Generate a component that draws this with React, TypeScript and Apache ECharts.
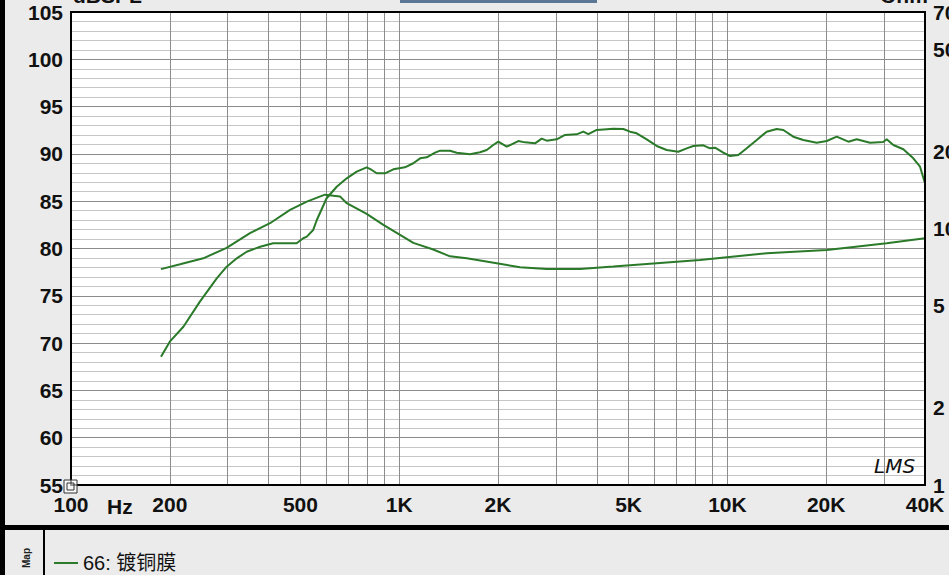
import React, { useEffect, useRef } from 'react';
import * as echarts from 'echarts';

// SPL curve (dB) vs frequency (Hz)
const splFreq = [188, 200, 220, 247, 278, 298, 320, 343, 377, 413, 487, 510, 523, 547, 561, 601, 645, 692, 742, 796, 825, 854, 905, 960, 1041, 1104, 1158, 1213, 1286, 1332, 1428, 1497, 1643, 1763, 1848, 1935, 2004, 2126, 2306, 2417, 2593, 2718, 2814, 3019, 3201, 3474, 3639, 3769, 3998, 4491, 4818, 5050, 5292, 5677, 6089, 6531, 7086, 7516, 7873, 8446, 8851, 9167, 9716, 10180, 10795, 11451, 12285, 13170, 14131, 14801, 15878, 17029, 18713, 20080, 21530, 23360, 24770, 27200, 29850, 30570, 32030, 34360, 36850, 38630, 40000];
const splDb = [68.56, 70.15, 71.73, 74.38, 76.85, 78.08, 78.96, 79.66, 80.19, 80.55, 80.55, 81.08, 81.25, 81.96, 83.01, 85.31, 86.53, 87.42, 88.12, 88.58, 88.3, 87.95, 87.95, 88.37, 88.58, 89.01, 89.53, 89.64, 90.13, 90.34, 90.34, 90.13, 89.96, 90.17, 90.41, 90.94, 91.29, 90.76, 91.36, 91.22, 91.12, 91.61, 91.4, 91.54, 92.0, 92.07, 92.35, 92.1, 92.53, 92.66, 92.63, 92.35, 92.18, 91.54, 90.84, 90.41, 90.23, 90.59, 90.84, 90.91, 90.59, 90.66, 90.13, 89.78, 89.88, 90.59, 91.47, 92.35, 92.63, 92.53, 91.82, 91.47, 91.18, 91.36, 91.82, 91.29, 91.54, 91.18, 91.26, 91.54, 90.94, 90.49, 89.53, 88.65, 86.89];

// Impedance curve (Ohm) vs frequency (Hz)
const impFreq = [188, 215, 253, 298, 351, 404, 465, 523, 594, 660, 692, 796, 895, 1006, 1104, 1270, 1428, 1606, 1982, 2334, 2814, 3555, 4491, 5168, 8252, 13170, 20080, 30570, 40000];
const impOhm = [6.95, 7.26, 7.66, 8.42, 9.6, 10.5, 11.83, 12.75, 13.57, 13.36, 12.57, 11.41, 10.34, 9.45, 8.8, 8.29, 7.8, 7.66, 7.33, 7.07, 6.96, 6.96, 7.11, 7.22, 7.55, 8.02, 8.26, 8.77, 9.17];

// Axes
const xGridLines = [200, 300, 400, 500, 600, 700, 800, 900, 1000, 2000, 3000, 4000, 5000, 6000, 7000, 8000, 9000, 10000, 20000, 30000];
const xTickValues = [100, 200, 500, 1000, 2000, 5000, 10000, 20000, 40000];
const xTickLabels = ['100', '200', '500', '1K', '2K', '5K', '10K', '20K', '40K'];
const rightTickValues = [1, 2, 5, 10, 20, 50, 70];
const seriesName = '66: 镀铜膜';

const FONT = '"Liberation Sans", Arial, "Noto Sans CJK SC", sans-serif';
const GREEN = '#2a7a2a';
const GRID_DARK = '#8c8c8c';
const GRID_LIGHT = '#c6c6c6';
const CLEAR = 'rgba(0,0,0,0)';

export default function App() {
  const ref = useRef<HTMLDivElement>(null);
  useEffect(() => {
    if (!ref.current) return;
    const chart = echarts.init(ref.current, null, { renderer: 'svg' });
    const labelStyle = { fontSize: 21, fontWeight: 'bold', color: '#111', fontFamily: FONT };
    const option: any = {
      animation: false,
      backgroundColor: '#ebebeb',
      textStyle: { fontFamily: FONT },
      grid: { left: 71, top: 12, width: 854, height: 473, show: true, backgroundColor: '#ffffff', borderWidth: 0 },
      xAxis: {
        type: 'log', logBase: 10, min: 100, max: 40000,
        axisLine: { show: false }, axisTick: { show: false }, axisLabel: { show: false }, splitLine: { show: false },
      },
      yAxis: [
        {
          type: 'value', min: 55, max: 105, interval: 5, position: 'left',
          axisLine: { show: false }, axisTick: { show: false },
          axisLabel: { ...labelStyle, margin: 8 },
          splitLine: { show: true, lineStyle: { color: GRID_DARK, width: 1 } },
          minorTick: { show: false, splitNumber: 5 },
          minorSplitLine: { show: true, lineStyle: { color: GRID_LIGHT, width: 1 } },
        },
        {
          type: 'log', logBase: 10, min: 1, max: 70, position: 'right',
          axisLine: { show: false }, axisTick: { show: false }, axisLabel: { show: false }, splitLine: { show: false },
        },
      ],
      legend: {
        data: [seriesName], left: 49, top: 548, itemWidth: 24, itemHeight: 2, icon: 'rect', itemGap: 10,
        itemStyle: { color: GREEN },
        textStyle: { fontSize: 20, color: '#111', fontFamily: FONT },
      },
      series: [
        {
          name: seriesName, type: 'line', xAxisIndex: 0, yAxisIndex: 0,
          data: splFreq.map((f, i) => [f, splDb[i]]),
          symbol: 'none', showSymbol: false, smooth: false,
          lineStyle: { color: GREEN, width: 2 }, itemStyle: { color: GREEN }, z: 5,
          markLine: {
            silent: true, symbol: ['none', 'none'], animation: false,
            label: { show: false },
            lineStyle: { color: GRID_DARK, width: 1, type: 'solid' },
            emphasis: { disabled: true },
            data: xGridLines.map((v) => ({ xAxis: v })),
            z: 1,
          },
        },
        {
          name: seriesName, type: 'line', xAxisIndex: 0, yAxisIndex: 1,
          data: impFreq.map((f, i) => [f, impOhm[i]]),
          symbol: 'none', showSymbol: false, smooth: false,
          lineStyle: { color: GREEN, width: 2 }, itemStyle: { color: GREEN }, z: 5,
          markLine: {
            silent: true, symbol: ['none', 'none'], animation: false,
            lineStyle: { color: CLEAR, width: 1, type: 'solid' },
            emphasis: { disabled: true },
            data: [
              ...xTickValues.map((v, i) => ({
                xAxis: v,
                label: { show: true, position: 'start', distance: 9, formatter: xTickLabels[i], ...labelStyle },
              })),
              ...rightTickValues.map((v) => ({
                yAxis: v,
                label: { show: true, position: 'end', distance: 8, formatter: String(v), ...labelStyle },
              })),
            ],
          },
        },
      ],
      graphic: [
        { type: 'rect', silent: true, z: 100, shape: { x: 71, y: 12, width: 854, height: 473 }, style: { fill: 'none', stroke: '#000', lineWidth: 2 } },
        { type: 'rect', silent: true, z: 100, shape: { x: 0, y: 0, width: 5, height: 575 }, style: { fill: '#000' } },
        { type: 'rect', silent: true, z: 100, shape: { x: 0, y: 525, width: 949, height: 5 }, style: { fill: '#000' } },
        { type: 'rect', silent: true, z: 100, shape: { x: 43, y: 530, width: 2, height: 45 }, style: { fill: '#000' } },
        { type: 'rect', silent: true, z: 100, shape: { x: 400, y: 0, width: 197, height: 3 }, style: { fill: '#5b7795' } },
        { type: 'text', silent: true, z: 100, x: 26, y: 558, rotation: Math.PI / 2, style: { text: 'Map', font: 'bold 10px "Liberation Sans", Arial', fill: '#222', align: 'center', verticalAlign: 'middle' } },
        { type: 'text', silent: true, z: 100, x: 107, y: 496, style: { text: 'Hz', font: 'bold 21px "Liberation Sans", Arial', fill: '#111', align: 'left', verticalAlign: 'top' } },
        { type: 'text', silent: true, z: 100, x: 73, y: 6, style: { text: 'dBSPL', font: 'bold 21px "Liberation Sans", Arial', fill: '#111', align: 'left', verticalAlign: 'bottom' } },
        { type: 'text', silent: true, z: 100, x: 880, y: 6, style: { text: 'Ohm', font: 'bold 21px "Liberation Sans", Arial', fill: '#111', align: 'left', verticalAlign: 'bottom' } },
        { type: 'text', silent: true, z: 100, x: 874, y: 456, style: { text: 'LMS', font: 'italic 20px "DejaVu Sans", sans-serif', fill: '#111', align: 'left', verticalAlign: 'top' } },
        { type: 'rect', silent: true, z: 101, shape: { x: 64, y: 480, width: 13, height: 13 }, style: { fill: 'rgba(255,255,255,0.6)', stroke: '#333', lineWidth: 1 } },
        { type: 'rect', silent: true, z: 101, shape: { x: 67, y: 483, width: 7, height: 7 }, style: { fill: 'none', stroke: '#333', lineWidth: 1 } },
      ],
    };
    chart.setOption(option);
    return () => chart.dispose();
  }, []);
  return <div ref={ref} style={{ position: 'absolute', left: 0, top: 0, width: 949, height: 575 }} />;
}
